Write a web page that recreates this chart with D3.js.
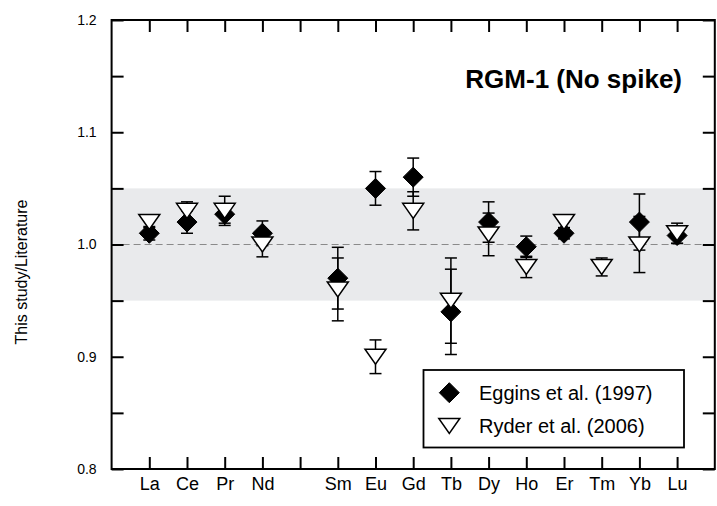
<!DOCTYPE html>
<html>
<head>
<meta charset="utf-8">
<script src="https://cdn.jsdelivr.net/npm/d3@7"></script>
<style>
  html, body { margin: 0; padding: 0; background: #fff; }
  svg { display: block; font-family: "Liberation Sans", Arial, Helvetica, sans-serif; }
</style>
</head>
<body>
<svg id="chart" width="717" height="506"></svg>
<script>
// Rare earth elements, Pm slot kept empty
const elements = ["La","Ce","Pr","Nd","Pm","Sm","Eu","Gd","Tb","Dy","Ho","Er","Tm","Yb","Lu"];
const tickLabels = ["La","Ce","Pr","Nd","","Sm","Eu","Gd","Tb","Dy","Ho","Er","Tm","Yb","Lu"];

// Ratio to Eggins et al. (1997) and its 1-sigma uncertainty
const eggins    = [1.01, 1.02, 1.027, 1.01, null, 0.97, 1.05, 1.06, 0.94, 1.02, 0.998, 1.01, null, 1.02, 1.008];
const egginsErr = [0.006, 0.01, 0.008, 0.011, null, 0.0275, 0.015, 0.017, 0.038, 0.018, 0.0095, 0.005, null, 0.025, 0.007];

// Ratio to Ryder et al. (2006) and its 1-sigma uncertainty
const ryder    = [1.02, 1.03, 1.03, 1.0, null, 0.96, 0.90, 1.03, 0.95, 1.009, 0.98, 1.02, 0.98, 1.0, 1.01];
const ryderErr = [0.005, 0.008, 0.013, 0.011, null, 0.028, 0.015, 0.017, 0.038, 0.019, 0.0095, 0.005, 0.008, 0.025, 0.009];

const yTicks = [0.8, 0.85, 0.9, 0.95, 1.0, 1.05, 1.1, 1.15, 1.2];
const yLabels = ["0.8", "", "0.9", "", "1.0", "", "1.1", "", "1.2"];
const band = [0.95, 1.05];
const refLine = 1.0;

const title = "RGM-1 (No spike)";
const yTitle = "This study/Literature";
const legendNames = ["Eggins et al. (1997)", "Ryder et al. (2006)"];

const svg = d3.select("#chart");
const plotL = 111.6, plotR = 714.8, plotT = 20, plotB = 469;

const x = d3.scaleLinear().domain([0, elements.length + 1]).range([plotL, plotR]);
const y = d3.scaleLinear().domain([0.8, 1.2]).range([plotB, plotT]);
const pos = elements.map((d, i) => i + 1);

// shaded +/-5 % band
svg.append("rect")
  .attr("x", plotL).attr("width", plotR - plotL)
  .attr("y", y(band[1])).attr("height", y(band[0]) - y(band[1]))
  .attr("fill", "#e9eaec");

// dashed reference at unity
svg.append("line")
  .attr("x1", plotL).attr("x2", plotR)
  .attr("y1", y(refLine)).attr("y2", y(refLine))
  .attr("stroke", "#8a8a8a").attr("stroke-width", 1.2)
  .attr("stroke-dasharray", "7,4");

// axes
function styleAxis(g) {
  g.select(".domain").remove();
  g.selectAll(".tick line").attr("stroke", "#000").attr("stroke-width", 2);
}
const yFmt = v => yLabels[yTicks.findIndex(t => Math.abs(t - v) < 1e-9)];

svg.append("g").attr("transform", `translate(${plotL},0)`)
  .call(d3.axisLeft(y).tickValues(yTicks).tickSizeInner(-12).tickSizeOuter(0).tickPadding(15).tickFormat(yFmt))
  .call(styleAxis)
  .call(g => g.selectAll("text").attr("font-size", 14).attr("fill", "#000"));

svg.append("g").attr("transform", `translate(${plotR},0)`)
  .call(d3.axisRight(y).tickValues(yTicks).tickSizeInner(-12).tickSizeOuter(0).tickFormat(""))
  .call(styleAxis);

svg.append("g").attr("transform", `translate(0,${plotB})`)
  .call(d3.axisBottom(x).tickValues(pos).tickSizeInner(-12).tickSizeOuter(0).tickPadding(8)
        .tickFormat(d => tickLabels[d - 1]))
  .call(styleAxis)
  .call(g => g.selectAll("text").attr("font-size", 18).attr("fill", "#000"));

svg.append("g").attr("transform", `translate(0,${plotT})`)
  .call(d3.axisTop(x).tickValues(pos).tickSizeInner(-12).tickSizeOuter(0).tickFormat(""))
  .call(styleAxis);

// frame
svg.append("rect")
  .attr("x", plotL).attr("y", plotT)
  .attr("width", plotR - plotL).attr("height", plotB - plotT)
  .attr("fill", "none").attr("stroke", "#000").attr("stroke-width", 2);

// symbols
const diamondPath = (w, h) => `M0,${-h/2}L${w/2},0L0,${h/2}L${-w/2},0Z`;
const triPath = (w, h) => `M${-w/2},${-h/2}L${w/2},${-h/2}L0,${h/2}Z`;

function errorBars(vals, errs) {
  const rows = pos.map((p, i) => ({p, v: vals[i], e: errs[i]})).filter(d => d.v != null);
  const g = svg.append("g").attr("stroke", "#000").attr("stroke-width", 1.5).attr("fill", "none");
  rows.forEach(d => {
    const cx = x(d.p), y1 = y(d.v + d.e), y2 = y(d.v - d.e);
    g.append("line").attr("x1", cx).attr("x2", cx).attr("y1", y1).attr("y2", y2);
    g.append("line").attr("x1", cx - 6).attr("x2", cx + 6).attr("y1", y1).attr("y2", y1);
    g.append("line").attr("x1", cx - 6).attr("x2", cx + 6).attr("y1", y2).attr("y2", y2);
  });
  return rows;
}

const eRows = errorBars(eggins, egginsErr);
svg.append("g").selectAll("path").data(eRows).join("path")
  .attr("d", diamondPath(20, 20))
  .attr("transform", d => `translate(${x(d.p)},${y(d.v)})`)
  .attr("fill", "#000").attr("stroke", "#000").attr("stroke-width", 1);

const rRows = errorBars(ryder, ryderErr);
svg.append("g").selectAll("path").data(rRows).join("path")
  .attr("d", triPath(21, 15))
  .attr("transform", d => `translate(${x(d.p)},${y(d.v)})`)
  .attr("fill", "#fff").attr("stroke", "#000").attr("stroke-width", 1.5);

// title
svg.append("text")
  .attr("x", 682).attr("y", 88)
  .attr("text-anchor", "end")
  .attr("font-size", 26).attr("font-weight", "bold")
  .text(title);

// y-axis title
svg.append("text")
  .attr("transform", "translate(27,272) rotate(-90)")
  .attr("text-anchor", "middle")
  .attr("font-size", 16)
  .text(yTitle);

// legend
const lg = svg.append("g");
lg.append("rect")
  .attr("x", 423.5).attr("y", 370).attr("width", 260.5).attr("height", 77.5)
  .attr("fill", "#fff").attr("stroke", "#000").attr("stroke-width", 1.8);
lg.append("path").attr("d", diamondPath(20, 20))
  .attr("transform", "translate(449.3,392.7)").attr("fill", "#000").attr("stroke", "#000");
lg.append("path").attr("d", triPath(21, 15))
  .attr("transform", "translate(449.3,426)").attr("fill", "#fff").attr("stroke", "#000").attr("stroke-width", 1.5);
lg.selectAll("text").data(legendNames).join("text")
  .attr("x", 479).attr("y", (d, i) => i === 0 ? 400 : 432.7)
  .attr("font-size", 20)
  .text(d => d);
</script>
</body>
</html>
